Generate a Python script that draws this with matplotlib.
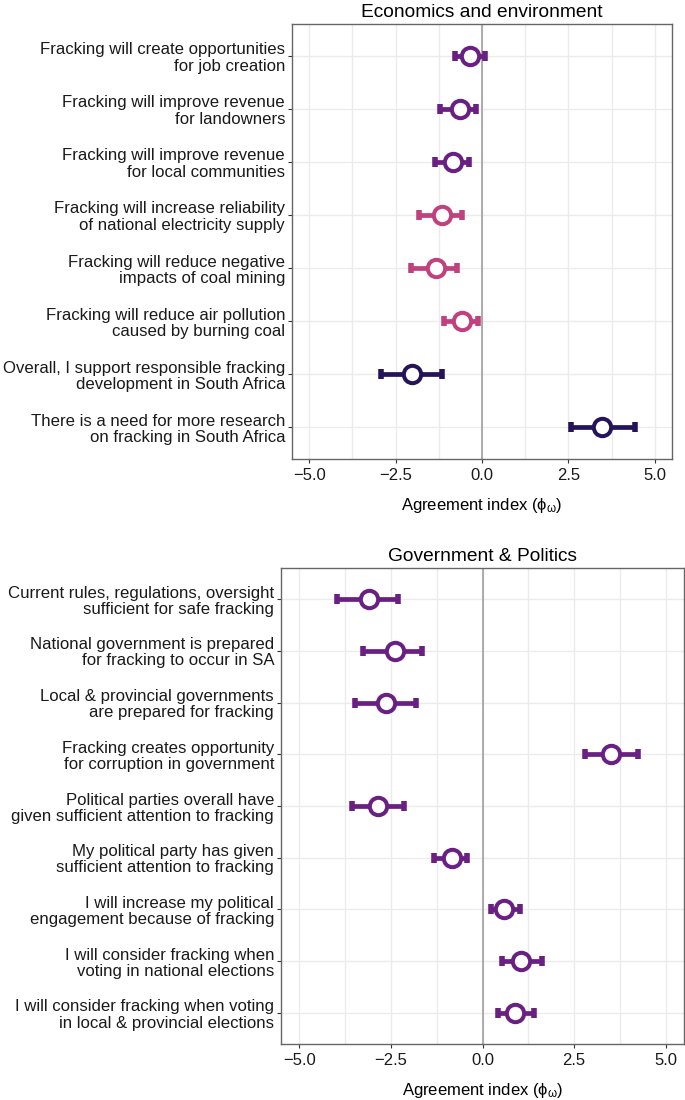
import matplotlib.pyplot as plt
from matplotlib.ticker import MultipleLocator

plt.rcParams['font.family'] = ['Liberation Sans', 'DejaVu Sans']
plt.rcParams['mathtext.fontset'] = 'custom'
plt.rcParams['mathtext.rm'] = 'Liberation Sans'

econ_labels = [
    "Fracking will create opportunities\nfor job creation",
    "Fracking will improve revenue\nfor landowners",
    "Fracking will improve revenue\nfor local communities",
    "Fracking will increase reliability\nof national electricity supply",
    "Fracking will reduce negative\nimpacts of coal mining",
    "Fracking will reduce air pollution\ncaused by burning coal",
    "Overall, I support responsible fracking\ndevelopment in South Africa",
    "There is a need for more research\non fracking in South Africa",
]
econ_mean = [-0.34, -0.64, -0.85, -1.16, -1.33, -0.59, -2.03, 3.47]
econ_lo = [-0.77, -1.22, -1.36, -1.82, -2.06, -1.09, -2.91, 2.58]
econ_hi = [0.10, -0.16, -0.37, -0.59, -0.72, -0.13, -1.17, 4.44]
econ_group = ["econ", "econ", "econ", "env", "env", "env", "overall", "overall"]

gov_labels = [
    "Current rules, regulations, oversight\nsufficient for safe fracking",
    "National government is prepared\nfor fracking to occur in SA",
    "Local & provincial governments\nare prepared for fracking",
    "Fracking creates opportunity\nfor corruption in government",
    "Political parties overall have\ngiven sufficient attention to fracking",
    "My political party has given\nsufficient attention to fracking",
    "I will increase my political\nengagement because of fracking",
    "I will consider fracking when\nvoting in national elections",
    "I will consider fracking when voting\nin local & provincial elections",
]
gov_mean = [-3.11, -2.40, -2.63, 3.52, -2.86, -0.84, 0.60, 1.05, 0.90]
gov_lo = [-3.97, -3.27, -3.48, 2.81, -3.56, -1.33, 0.23, 0.54, 0.43]
gov_hi = [-2.31, -1.64, -1.82, 4.25, -2.14, -0.42, 1.02, 1.62, 1.41]

group_colors = {"econ": "#6a1f82", "env": "#c1407e", "overall": "#25145a", "gov": "#6a1f82"}


def draw_panel(ax, title, labels, mean, lo, hi, groups):
    n = len(labels)
    ys = list(range(n))
    ax.axvline(0, color='#a6a6a6', lw=1.3, zorder=1)
    for y, m, l, h, g in zip(ys, mean, lo, hi, groups):
        c = group_colors[g]
        ax.errorbar([m], [y], xerr=[[m - l], [h - m]], fmt='none', ecolor=c,
                    elinewidth=3.4, capsize=3.8, capthick=4, zorder=3)
        ax.plot([m], [y], 'o', ms=12.5, mfc='white', mec=c, mew=2.9, zorder=4)
    ax.set_yticks(ys)
    ax.set_yticklabels(labels, fontsize=12.1, linespacing=1.1)
    ax.set_ylim(n - 0.4, -0.6)
    ax.set_xlim(-5.5, 5.5)
    ax.xaxis.set_minor_locator(MultipleLocator(1.25))
    ax.set_xticks([-5, -2.5, 0, 2.5, 5])
    ax.set_xticklabels(["\u22125.0", "\u22122.5", "0.0", "2.5", "5.0"], fontsize=12)
    ax.grid(which='both', color='#ebebeb', lw=1, zorder=0)
    ax.set_axisbelow(True)
    ax.tick_params(axis='both', which='major', length=3, color='#333333', labelcolor='#1a1a1a')
    ax.tick_params(axis='y', pad=2)
    ax.tick_params(axis='x', which='minor', length=0)
    for s in ax.spines.values():
        s.set_color('#666666')
        s.set_linewidth(1)
    ax.set_title(title, fontsize=13.8, pad=5)
    ax.set_xlabel(r'Agreement index ($\mathrm{\phi_{\omega}}$)', fontsize=12, labelpad=9)


fig = plt.figure(figsize=(6.85, 11), dpi=100)
ax1 = fig.add_axes([292 / 685, 1 - 459 / 1100, 380 / 685, 435 / 1100])
ax2 = fig.add_axes([281 / 685, 1 - 1044 / 1100, 403 / 685, 476 / 1100])

draw_panel(ax1, "Economics and environment", econ_labels, econ_mean, econ_lo, econ_hi, econ_group)
draw_panel(ax2, "Government & Politics", gov_labels, gov_mean, gov_lo, gov_hi, ["gov"] * len(gov_labels))

fig.savefig("out.png", dpi=100)
